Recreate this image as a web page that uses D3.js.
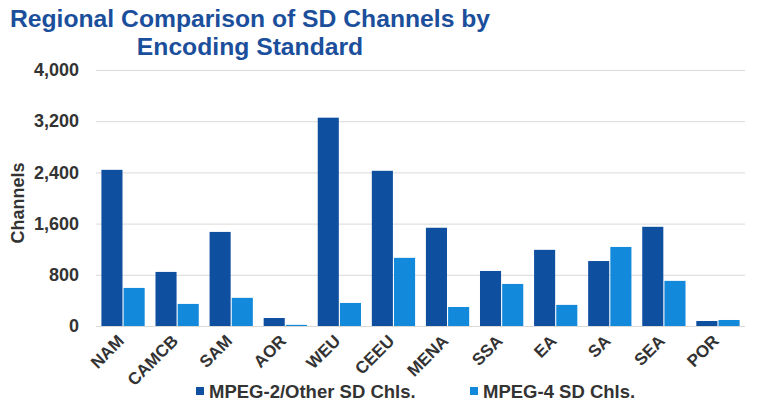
<!DOCTYPE html>
<html>
<head>
<meta charset="utf-8">
<script src="https://cdn.jsdelivr.net/npm/d3@7"></script>
<style>
  body { margin: 0; background: #fff; }
  text { font-family: "Liberation Sans", Arial, sans-serif; }
</style>
</head>
<body>
<svg id="chart" width="770" height="405"></svg>
<script>
// chart data
var regions = ["NAM", "CAMCB", "SAM", "AOR", "WEU", "CEEU", "MENA", "SSA", "EA", "SA", "SEA", "POR"];
var mpeg2Values = [2440, 845, 1470, 125, 3255, 2425, 1535, 860, 1190, 1015, 1550, 78];
var mpeg4Values = [595, 345, 440, 18, 360, 1065, 297, 657, 330, 1235, 705, 94];
var seriesNames = ["MPEG-2/Other SD Chls.", "MPEG-4 SD Chls."];
var yTicks = [0, 800, 1600, 2400, 3200, 4000];

var colors = ["#0E4FA0", "#1289DA"];

var svg = d3.select("#chart");

var margin = { left: 96, right: 25, top: 70, bottom: 79 };
var width = 770 - margin.left - margin.right,
    height = 405 - margin.top - margin.bottom;

var g = svg.append("g")
    .attr("transform", "translate(" + margin.left + "," + margin.top + ")");

// scales
var x = d3.scaleBand()
    .domain(regions)
    .range([0, width])
    .paddingInner(0.2)
    .paddingOuter(0.1);

var xInner = d3.scaleBand()
    .domain([0, 1])
    .range([0, x.bandwidth()])
    .paddingInner(0.05);

var y = d3.scaleLinear().domain([0, 4000]).range([height, 0]);

// title
var title = svg.append("text")
    .attr("text-anchor", "middle")
    .attr("fill", "#1B4F9C")
    .attr("font-size", 24.7)
    .attr("font-weight", "bold");
title.append("tspan").attr("x", 250).attr("y", 27).text("Regional Comparison of SD Channels by");
title.append("tspan").attr("x", 250).attr("y", 55).text("Encoding Standard");

// gridlines
g.append("g")
    .attr("class", "grid")
    .selectAll("line")
    .data(yTicks)
    .enter()
    .append("line")
        .attr("x1", 0)
        .attr("x2", width)
        .attr("y1", function (d) { return y(d) + 0.5; })
        .attr("y2", function (d) { return y(d) + 0.5; })
        .attr("stroke", "#d9d9d9")
        .attr("stroke-width", 1);

// y axis labels
var yAxis = g.append("g")
    .call(d3.axisLeft(y)
        .tickValues(yTicks)
        .tickSize(0)
        .tickPadding(17)
        .tickFormat(d3.format(",")));
yAxis.select(".domain").remove();
yAxis.selectAll("text")
    .attr("font-size", 18)
    .attr("font-weight", "bold")
    .attr("fill", "#333333")
    .attr("font-family", "Liberation Sans, Arial, sans-serif");

// y axis title
svg.append("text")
    .attr("transform", "translate(24,203) rotate(-90)")
    .attr("text-anchor", "middle")
    .attr("font-size", 18)
    .attr("font-weight", "bold")
    .attr("fill", "#333333")
    .text("Channels");

// bars
var groups = g.selectAll(".region")
    .data(regions)
    .enter()
    .append("g")
        .attr("class", "region")
        .attr("transform", function (d) { return "translate(" + x(d) + ",0)"; });

groups.selectAll("rect")
    .data(function (d, i) { return [mpeg2Values[i], mpeg4Values[i]]; })
    .enter()
    .append("rect")
        .attr("x", function (d, i) { return xInner(i); })
        .attr("width", xInner.bandwidth())
        .attr("y", function (d) { return y(d); })
        .attr("height", function (d) { return height - y(d); })
        .attr("fill", function (d, i) { return colors[i]; });

// x axis labels
var xAxis = g.append("g")
    .attr("transform", "translate(0," + height + ")")
    .call(d3.axisBottom(x).tickSize(0).tickPadding(0));
xAxis.select(".domain").remove();
xAxis.selectAll("text")
    .attr("font-size", 17)
    .attr("font-weight", "bold")
    .attr("fill", "#333333")
    .attr("font-family", "Liberation Sans, Arial, sans-serif")
    .attr("text-anchor", "end")
    .attr("dy", null)
    .attr("y", 0)
    .attr("transform", "translate(2,16) rotate(-45)");

// legend
var legendX = [196, 470];
var legend = svg.selectAll(".legend")
    .data(seriesNames)
    .enter()
    .append("g")
        .attr("class", "legend")
        .attr("transform", function (d, i) { return "translate(" + legendX[i] + ",387)"; });

legend.append("rect")
    .attr("width", 8)
    .attr("height", 8)
    .attr("fill", function (d, i) { return colors[i]; });

legend.append("text")
    .attr("x", 13)
    .attr("y", 10.5)
    .attr("font-size", 18.5)
    .attr("font-weight", "bold")
    .attr("fill", "#333333")
    .text(function (d) { return d; });
</script>
</body>
</html>
